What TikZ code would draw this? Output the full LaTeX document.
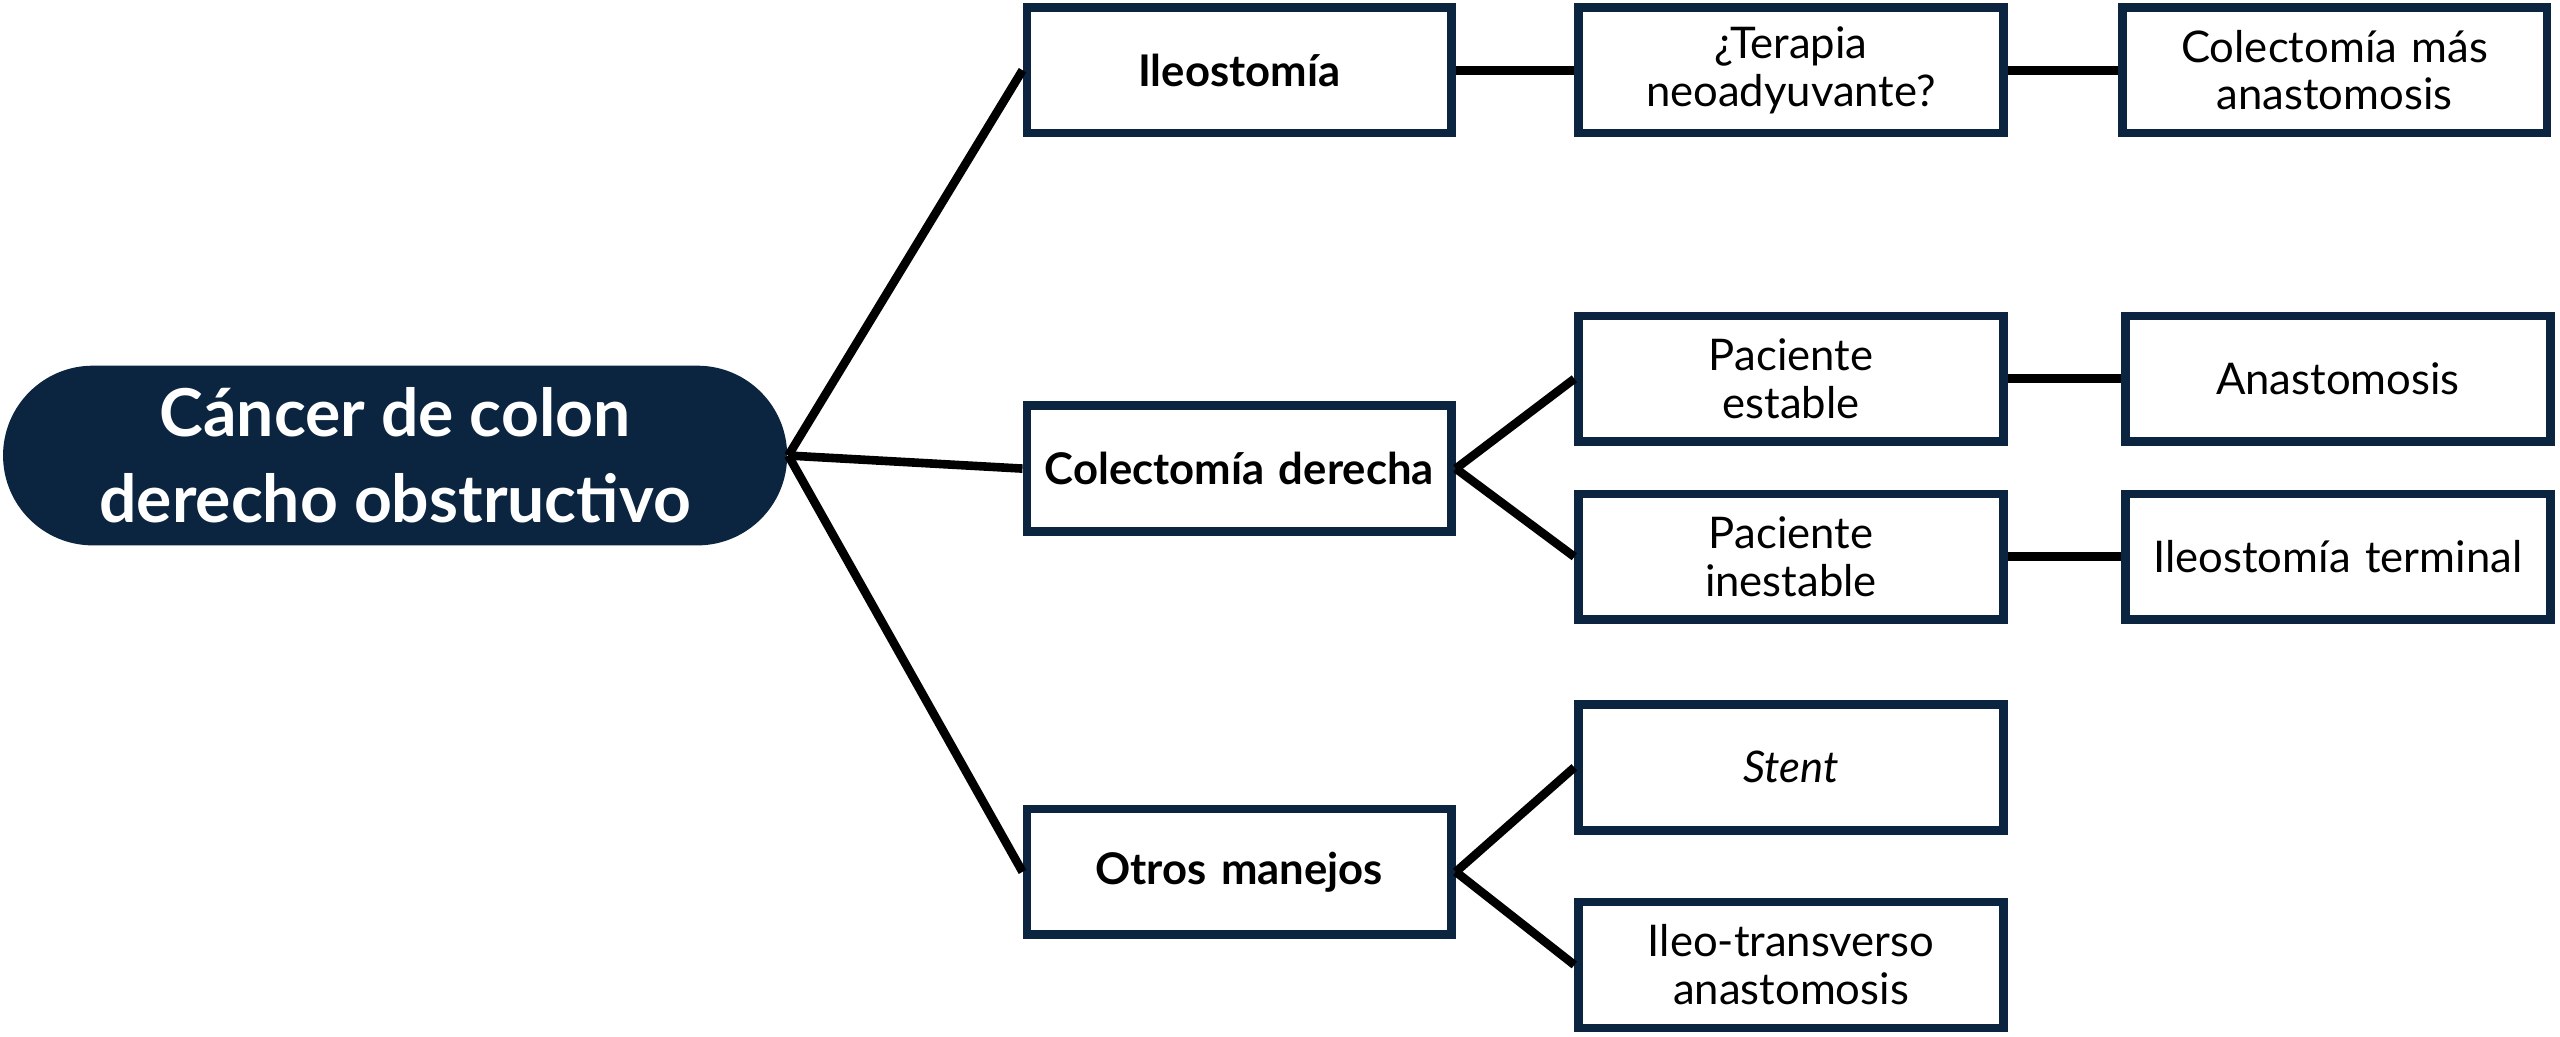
\documentclass[tikz,border=0pt]{standalone}
\usepackage{fontspec}
\setmainfont{Lato}
\definecolor{navy}{HTML}{0B2540}
\begin{document}
\begin{tikzpicture}[x=0.01cm,y=-0.01cm,
  box/.style={draw=navy, line width=1.5pt, minimum width=2.6cm, minimum height=0.77cm, text width=2.5cm, align=center, font=\fontsize{7.6}{8.3}\selectfont, inner sep=1pt},
  bbox/.style={box, font=\fontsize{7.6}{8.3}\selectfont\bfseries},
  link/.style={line width=1.5pt, black}]
\useasboundingbox (0,0) rectangle (1568,635);

\node [fill=navy, text=white, rounded corners=0.55cm, minimum width=4.8cm, minimum height=1.1cm, align=center, font=\fontsize{11.5}{15}\selectfont\bfseries] (root) at (242,279) {Cáncer de colon\\derecho obstructivo};

\node [bbox] (ileo) at (759,43) {Ileostomía};
\node [bbox] (colder) at (759,287) {Colectomía derecha};
\node [bbox] (otros) at (759,534) {Otros manejos};

\node [box] (terapia) at (1097,43) {¿Terapia\\neoadyuvante?};
\node [box] (estable) at (1097,232) {Paciente\\estable};
\node [box] (inestable) at (1097,341) {Paciente\\inestable};
\node [box] (stent) at (1097,470) {\itshape Stent};
\node [box] (transv) at (1097,591) {Ileo-transverso\\anastomosis};

\node [box] (colmas) at (1430,43) {Colectomía más\\anastomosis};
\node [box] (anast) at (1432,232) {Anastomosis};
\node [box] (terminal) at (1432,341) {Ileostomía terminal};

\draw [link] (root.east) -- (ileo.west);
\draw [link] (root.east) -- (colder.west);
\draw [link] (root.east) -- (otros.west);
\draw [link] (ileo) -- (terapia);
\draw [link] (terapia) -- (colmas);
\draw [link] (colder.east) -- (estable.west);
\draw [link] (colder.east) -- (inestable.west);
\draw [link] (estable) -- (anast);
\draw [link] (inestable) -- (terminal);
\draw [link] (otros.east) -- (stent.west);
\draw [link] (otros.east) -- (transv.west);
\end{tikzpicture}
\end{document}
